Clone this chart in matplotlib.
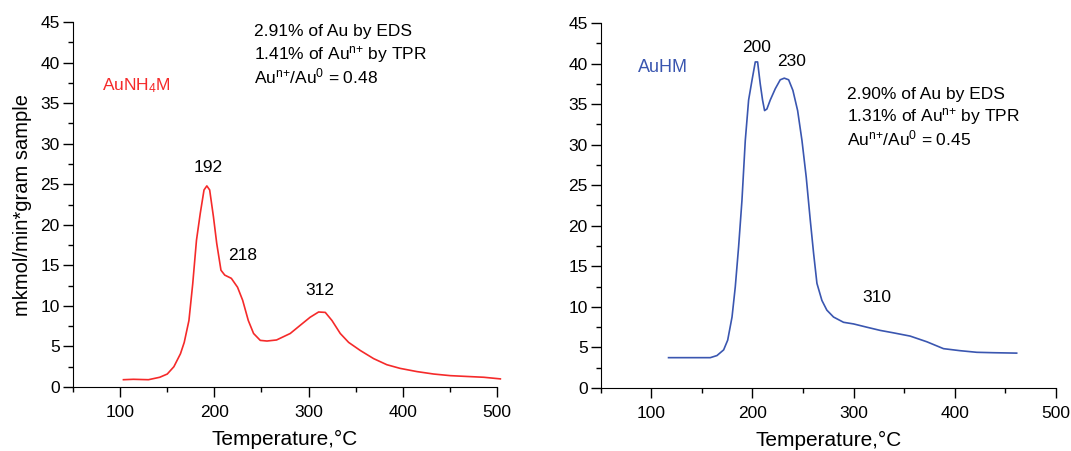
import numpy as np
import matplotlib
matplotlib.use("Agg")
from matplotlib import pyplot as plt
from matplotlib.ticker import MultipleLocator

plt.rcParams['font.family'] = ['Liberation Sans', 'DejaVu Sans']
plt.rcParams['mathtext.default'] = 'regular'

# AuNH4M TPR profile (red)
temp_nh4 = [103.5, 114, 130, 142, 150, 157, 164, 168, 173, 177, 181, 185, 189, 192,
            195, 199, 202.5, 207, 211, 218, 224.6, 230, 236, 241.6, 248.7, 255.8,
            266, 280.5, 291, 301.6, 310.6, 317.7, 324.8, 333.6, 342.5, 354.9, 369,
            383, 397, 415, 432.7, 450.4, 468, 486, 503.5]
h2_nh4 = [0.9, 0.95, 0.9, 1.2, 1.6, 2.5, 4.1, 5.5, 8.2, 12.7, 18.1, 21.4, 24.3, 24.8,
          24.3, 21.0, 17.7, 14.4, 13.8, 13.4, 12.3, 10.7, 8.2, 6.6, 5.75, 5.67,
          5.8, 6.6, 7.6, 8.6, 9.25, 9.2, 8.2, 6.6, 5.5, 4.5, 3.5,
          2.75, 2.3, 1.9, 1.6, 1.4, 1.3, 1.2, 1.0]

# AuHM TPR profile (blue)
temp_hm = [117, 158.3, 164.9, 171.5, 175.5, 179.8, 183, 186.3, 189.6, 192.9, 196.2,
           199.5, 202.8, 205.1, 207.7, 210, 212, 214.3, 217.6, 222.6, 227.5, 231.5,
           235.8, 240, 244.7, 249, 253.2, 257.2, 260.5, 263.8, 268.7, 273.6, 280.2,
           290.1, 300, 313, 326.4, 339.5, 356, 372.5, 389, 405.4, 422, 438.4, 461.4]
h2_hm = [3.74, 3.74, 4.0, 4.7, 5.9, 8.75, 12.45, 17.4, 23.1, 30.5, 35.5,
         37.9, 40.2, 40.2, 37.5, 35.5, 34.2, 34.4, 35.5, 36.9, 38.0, 38.2,
         38.0, 36.7, 34.2, 30.5, 26.0, 20.7, 16.6, 12.9, 10.8, 9.6, 8.75,
         8.1, 7.9, 7.5, 7.1, 6.8, 6.4, 5.7, 4.85, 4.6, 4.4, 4.35, 4.3]

peaks_nh4 = [(192, 193.8, 27.1), (218, 229.6, 16.2), (312, 312, 11.9)]
peaks_hm = [(200, 203.8, 42.0), (230, 238.4, 40.2), (310, 323, 11.2)]

info_nh4 = ['2.91% of Au by EDS', '1.41% of Au$^{n{+}}$ by TPR', 'Au$^{n{+}}$/Au$^{0}$ = 0.48']
info_hm = ['2.90% of Au by EDS', '1.31% of Au$^{n{+}}$ by TPR', 'Au$^{n{+}}$/Au$^{0}$ = 0.45']

red = '#f52a2a'
blue = '#3a56b0'

fig = plt.figure(figsize=(10.71, 4.51), dpi=100)
ax1 = fig.add_axes([0.0682, 0.1419, 0.3959, 0.8091])
ax2 = fig.add_axes([0.561, 0.1397, 0.4247, 0.8093])


def style(ax):
    ax.set_xlim(50, 500)
    ax.set_ylim(0, 45)
    ax.spines['top'].set_visible(False)
    ax.spines['right'].set_visible(False)
    ax.xaxis.set_major_locator(MultipleLocator(100))
    ax.xaxis.set_minor_locator(MultipleLocator(50))
    ax.yaxis.set_major_locator(MultipleLocator(5))
    ax.yaxis.set_minor_locator(MultipleLocator(2.5))
    ax.tick_params(which='major', direction='out', length=7, width=1, labelsize=12.5)
    ax.tick_params(which='minor', direction='out', length=3.5, width=1)
    ax.tick_params(axis='x', which='major', pad=6)
    ax.tick_params(axis='y', which='major', pad=2.5)
    ax.set_xlabel('Temperature,°C', fontsize=15, labelpad=7)
    ax.set_xticks([100, 200, 300, 400, 500])


style(ax1)
style(ax2)

ax1.plot(temp_nh4, h2_nh4, color=red, lw=1.2, clip_on=False)
ax2.plot(temp_hm, h2_hm, color=blue, lw=1.2, clip_on=False)

ax1.set_ylabel('mkmol/min*gram sample', fontsize=14.5, labelpad=6)

for lab, x, y in peaks_nh4:
    ax1.text(x, y, str(lab), ha='center', va='center', fontsize=12.5)
for lab, x, y in peaks_hm:
    ax2.text(x, y, str(lab), ha='center', va='center', fontsize=12.5)

ax1.text(80.5, 37.2, 'AuNH$_4$M', color=red, fontsize=12.5, va='center')
ax2.text(86.5, 39.5, 'AuHM', color=blue, fontsize=13, va='center')

for i, line in enumerate(info_nh4):
    ax1.text(241.6, 43.8 - 2.75 * i, line, fontsize=12.5, va='center')
for i, line in enumerate(info_hm):
    ax2.text(294, 36.2 - 2.7 * i, line, fontsize=12.5, va='center')

plt.savefig('out.png', dpi=100)
